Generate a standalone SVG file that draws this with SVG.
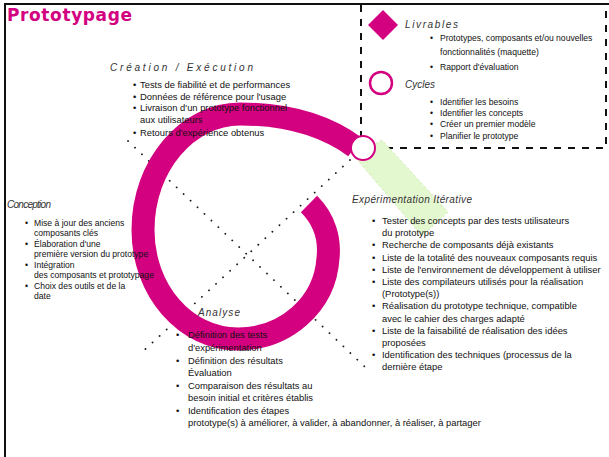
<svg xmlns="http://www.w3.org/2000/svg" width="609" height="457" viewBox="0 0 609 457">
<style>
.t{font-family:"Liberation Sans",Arial,sans-serif;font-size:9.4px;fill:#111}
.tl{font-family:"Liberation Sans",Arial,sans-serif;font-size:8.6px;fill:#111}
.h{font-family:"Liberation Sans",Arial,sans-serif;font-style:italic;font-size:10px;fill:#333}
.title{font-family:"DejaVu Sans",sans-serif;font-weight:bold;font-size:17px;fill:#d3007f}
.dot{stroke:#1a1a1a;stroke-width:1.8;stroke-linecap:round;stroke-dasharray:0.1 9.5;fill:none}
</style>
<rect width="609" height="457" fill="#fff"/>
<path d="M5,460 V4 H612" fill="none" stroke="#111" stroke-width="2"/>
<text class="title" x="7" y="21" textLength="125">Prototypage</text>

<g id="legend">
<rect x="361" y="4" width="245" height="144" fill="none" stroke="#111" stroke-width="2" stroke-dasharray="7 7"/>
<polygon points="383,10 398,25 383,40 368,25" fill="#d3007f"/>
<text class="h" x="405" y="28" textLength="53">Livrables</text>
<text class="tl" x="430" y="41">•</text><text class="tl" x="440" y="41">Prototypes, composants et/ou nouvelles</text>
<text class="tl" x="440" y="55">fonctionnalités (maquette)</text>
<text class="tl" x="430" y="70">•</text><text class="tl" x="440" y="70">Rapport d'évaluation</text>
<circle cx="381" cy="83" r="11" fill="#fff" stroke="#d3007f" stroke-width="2.5"/>
<text class="h" x="405" y="88">Cycles</text>
<text class="tl" x="430" y="105">•</text><text class="tl" x="440" y="105">Identifier les besoins</text>
<text class="tl" x="430" y="116">•</text><text class="tl" x="440" y="116">Identifier les concepts</text>
<text class="tl" x="430" y="127">•</text><text class="tl" x="440" y="127">Créer un premier modèle</text>
<text class="tl" x="430" y="139">•</text><text class="tl" x="440" y="139">Planifier le prototype</text>
</g>

<g id="connectors">
<polygon points="354,156 382,140 448,212 422,236" fill="#e4f8cf" stroke="#c4e2a6" stroke-width="0.8" stroke-dasharray="2 3"/>
<line class="dot" x1="128" y1="141" x2="365" y2="367"/>
<line class="dot" x1="350" y1="160" x2="139" y2="355"/>
</g>

<g id="ring">
<path d="M309,204 C325,220 330,240 328,258 C325,305 285,339 238,339 C185,339 143,290 143,230 C143,165 188,114 240,114 C285,114 325,125 355,147" fill="none" stroke="#d3007f" stroke-width="23"/>
<circle cx="363" cy="148" r="12" fill="#fff" stroke="#d3007f" stroke-width="2"/>
</g>

<g id="node-creation">
<text class="h" x="110" y="71" textLength="143">Création / Exécution</text>
<text class="t" x="133" y="88">•</text><text class="t" x="140" y="88">Tests de fiabilité et de performances</text>
<text class="t" x="133" y="100">•</text><text class="t" x="140" y="100">Données de référence pour l'usage</text>
<text class="t" x="133" y="111">•</text><text class="t" x="140" y="111">Livraison d'un prototype fonctionnel</text>
<text class="t" x="140" y="123">aux utilisateurs</text>
<text class="t" x="133" y="136">•</text><text class="t" x="140" y="136">Retours d'expérience obtenus</text>
</g>

<g id="node-conception">
<text class="h" x="7" y="208" textLength="44">Conception</text>
<text class="tl" x="25" y="226">•</text><text class="tl" x="34" y="226">Mise à jour des anciens</text>
<text class="tl" x="34" y="235.5">composants clés</text>
<text class="tl" x="25" y="247">•</text><text class="tl" x="34" y="247">Élaboration d'une</text>
<text class="tl" x="34" y="256.5">première version du prototype</text>
<text class="tl" x="25" y="268">•</text><text class="tl" x="34" y="268">Intégration</text>
<text class="tl" x="34" y="277.5">des composants et prototypage</text>
<text class="tl" x="25" y="289">•</text><text class="tl" x="34" y="289">Choix des outils et de la</text>
<text class="tl" x="34" y="298.5">date</text>
</g>

<g id="node-experimentation">
<text class="h" x="352" y="203" textLength="120">Expérimentation Itérative</text>
<text class="t" x="372" y="224">•</text><text class="t" x="382" y="224">Tester des concepts par des tests utilisateurs</text>
<text class="t" x="382" y="236">du prototype</text>
<text class="t" x="372" y="248">•</text><text class="t" x="382" y="248">Recherche de composants déjà existants</text>
<text class="t" x="372" y="261">•</text><text class="t" x="382" y="261">Liste de la totalité des nouveaux composants requis</text>
<text class="t" x="372" y="273">•</text><text class="t" x="382" y="273">Liste de l'environnement de développement à utiliser</text>
<text class="t" x="372" y="285">•</text><text class="t" x="382" y="285">Liste des compilateurs utilisés pour la réalisation</text>
<text class="t" x="382" y="297">(Prototype(s))</text>
<text class="t" x="372" y="309">•</text><text class="t" x="382" y="309">Réalisation du prototype technique, compatible</text>
<text class="t" x="382" y="322">avec le cahier des charges adapté</text>
<text class="t" x="372" y="334">•</text><text class="t" x="382" y="334">Liste de la faisabilité de réalisation des idées</text>
<text class="t" x="382" y="346">proposées</text>
<text class="t" x="372" y="358">•</text><text class="t" x="382" y="358">Identification des techniques (processus de la</text>
<text class="t" x="382" y="370">dernière étape</text>
</g>

<g id="node-analyse">
<text class="h" x="198" y="316" textLength="42">Analyse</text>
<text class="t" x="176" y="338">•</text><text class="t" x="188" y="338">Définition des tests</text>
<text class="t" x="188" y="351">d'expérimentation</text>
<text class="t" x="176" y="364">•</text><text class="t" x="188" y="364">Définition des résultats</text>
<text class="t" x="188" y="376">Évaluation</text>
<text class="t" x="176" y="389">•</text><text class="t" x="188" y="389">Comparaison des résultats au</text>
<text class="t" x="188" y="401">besoin initial et critères établis</text>
<text class="t" x="176" y="414">•</text><text class="t" x="188" y="414">Identification des étapes</text>
<text class="t" x="188" y="426">prototype(s) à améliorer, à valider, à abandonner, à réaliser, à partager</text>
</g>
</svg>
